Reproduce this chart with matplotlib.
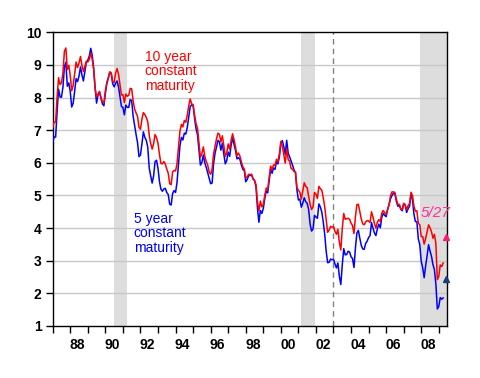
import matplotlib
matplotlib.use("Agg")
import matplotlib.pyplot as plt
import numpy as np

# monthly yields, Jan 1987 - Apr 2009 (percent)
ten_year = [
    7.08, 7.25, 7.25, 8.02, 8.61, 8.40, 8.45, 8.76, 9.42, 9.52, 8.86, 8.99,
    8.67, 8.21, 8.37, 8.72, 9.09, 8.92, 9.06, 9.26, 8.98, 8.80, 8.96, 9.11,
    9.09, 9.17, 9.36, 9.18, 8.86, 8.28, 8.02, 8.11, 8.19, 8.01, 7.87, 7.84,
    8.21, 8.47, 8.59, 8.79, 8.76, 8.48, 8.47, 8.75, 8.89, 8.72, 8.39, 8.08,
    8.09, 7.85, 8.11, 8.04, 8.07, 8.28, 8.27, 7.90, 7.65, 7.53, 7.42, 7.09,
    7.03, 7.34, 7.54, 7.48, 7.39, 7.26, 6.84, 6.59, 6.42, 6.59, 6.87, 6.77,
    6.60, 6.26, 5.98, 5.97, 6.04, 5.96, 5.81, 5.68, 5.36, 5.33, 5.72, 5.77,
    5.75, 5.97, 6.48, 6.97, 7.18, 7.10, 7.30, 7.24, 7.46, 7.74, 7.96, 7.81,
    7.78, 7.47, 7.20, 7.06, 6.63, 6.17, 6.28, 6.49, 6.20, 6.04, 5.93, 5.71,
    5.65, 5.81, 6.27, 6.51, 6.74, 6.91, 6.87, 6.64, 6.83, 6.53, 6.20, 6.30,
    6.58, 6.42, 6.69, 6.89, 6.71, 6.49, 6.22, 6.30, 6.21, 6.03, 5.88, 5.81,
    5.54, 5.57, 5.65, 5.64, 5.65, 5.50, 5.46, 5.34, 4.81, 4.53, 4.83, 4.65,
    4.72, 5.00, 5.23, 5.18, 5.54, 5.90, 5.79, 5.94, 5.92, 6.11, 6.03, 6.28,
    6.66, 6.52, 6.26, 5.99, 6.44, 6.10, 6.05, 5.83, 5.80, 5.74, 5.72, 5.24,
    5.16, 5.10, 4.89, 5.14, 5.39, 5.28, 5.24, 4.97, 4.73, 4.57, 4.65, 5.09,
    5.04, 4.91, 5.28, 5.21, 5.16, 4.93, 4.65, 4.26, 3.87, 3.94, 4.05, 4.03,
    4.05, 3.90, 3.81, 3.96, 3.57, 3.33, 3.98, 4.45, 4.27, 4.29, 4.30, 4.27,
    4.15, 4.08, 3.83, 4.35, 4.72, 4.73, 4.50, 4.28, 4.13, 4.10, 4.19, 4.23,
    4.22, 4.17, 4.50, 4.34, 4.14, 4.00, 4.18, 4.26, 4.20, 4.46, 4.54, 4.47,
    4.42, 4.57, 4.72, 4.99, 5.11, 5.11, 5.09, 4.88, 4.72, 4.73, 4.60, 4.56,
    4.76, 4.72, 4.56, 4.69, 4.75, 5.10, 5.00, 4.67, 4.52, 4.53, 4.15, 4.10,
    3.74, 3.74, 3.51, 3.68, 3.88, 4.10, 4.01, 3.89, 3.69, 3.81, 3.53, 2.42,
    2.52, 2.87, 2.82, 2.93,
]
five_year = [
    6.64, 6.79, 6.79, 7.57, 8.26, 8.02, 8.01, 8.32, 8.94, 9.08, 8.35, 8.45,
    8.18, 7.71, 7.83, 8.19, 8.58, 8.49, 8.66, 8.94, 8.69, 8.51, 8.79, 9.09,
    9.15, 9.27, 9.51, 9.30, 8.91, 8.29, 7.83, 8.09, 8.17, 7.97, 7.81, 7.75,
    8.12, 8.42, 8.60, 8.77, 8.74, 8.43, 8.33, 8.44, 8.51, 8.33, 8.02, 7.73,
    7.70, 7.47, 7.77, 7.70, 7.70, 7.94, 7.91, 7.43, 7.14, 6.87, 6.62, 6.19,
    6.24, 6.58, 6.95, 6.78, 6.69, 6.48, 5.84, 5.60, 5.38, 5.60, 6.04, 6.08,
    5.83, 5.43, 5.19, 5.13, 5.20, 5.22, 5.09, 5.03, 4.73, 4.71, 5.06, 5.15,
    5.09, 5.40, 5.94, 6.52, 6.78, 6.70, 6.91, 6.88, 7.08, 7.40, 7.72, 7.78,
    7.76, 7.37, 7.05, 6.86, 6.41, 5.93, 6.01, 6.24, 6.00, 5.86, 5.69, 5.51,
    5.36, 5.38, 5.97, 6.30, 6.48, 6.69, 6.64, 6.39, 6.60, 6.27, 5.97, 6.07,
    6.33, 6.20, 6.54, 6.76, 6.57, 6.38, 6.12, 6.16, 6.11, 5.93, 5.80, 5.77,
    5.42, 5.49, 5.61, 5.61, 5.63, 5.52, 5.46, 5.27, 4.62, 4.18, 4.54, 4.45,
    4.60, 4.91, 5.14, 5.08, 5.44, 5.81, 5.68, 5.84, 5.80, 6.03, 5.97, 6.19,
    6.58, 6.68, 6.50, 6.26, 6.69, 6.30, 6.18, 6.06, 5.93, 5.78, 5.70, 5.17,
    4.86, 4.89, 4.64, 4.76, 4.93, 4.81, 4.76, 4.57, 4.12, 3.91, 3.97, 4.39,
    4.34, 4.30, 4.74, 4.65, 4.49, 4.19, 3.81, 3.29, 2.94, 2.95, 3.05, 3.03,
    3.05, 2.90, 2.78, 2.93, 2.52, 2.27, 2.87, 3.37, 3.18, 3.19, 3.29, 3.27,
    3.12, 3.07, 2.79, 3.39, 3.85, 3.93, 3.69, 3.47, 3.36, 3.35, 3.53, 3.60,
    3.71, 3.77, 4.17, 4.00, 3.85, 3.77, 3.98, 4.12, 4.01, 4.33, 4.45, 4.39,
    4.35, 4.57, 4.72, 4.90, 5.00, 5.07, 5.04, 4.82, 4.67, 4.69, 4.58, 4.53,
    4.75, 4.71, 4.48, 4.59, 4.67, 5.03, 4.88, 4.43, 4.20, 4.20, 3.67, 3.49,
    2.98, 2.78, 2.48, 2.84, 3.15, 3.49, 3.30, 3.14, 2.88, 2.73, 2.29, 1.52,
    1.60, 1.87, 1.82, 1.86,
]
start_year = 1987

# daily readings on 5/27/2009
may27_ten = 3.72
may27_five = 2.43
may27_date = 2009.40

recessions = [(1990.5, 1991.25), (2001.17, 2001.92), (2007.92, 2009.5)]
marker_line = 2003.0
tick_years = list(range(1987, 2010))
label_years = list(range(1988, 2010, 2))

months = start_year + np.arange(len(ten_year)) / 12.0

fig = plt.figure(figsize=(4.8, 3.78), dpi=100)
ax = fig.add_axes([0.1098, 0.1376, 0.8208, 0.7769])

for a, b in recessions:
    ax.axvspan(a, b, color="#dddddd", lw=0, zorder=0)

for y in range(2, 10):
    ax.axhline(y, color="#c8c8c8", lw=1.0, zorder=1)

ax.axvline(marker_line, color="#808080", lw=1.0, ls=(0, (4, 3)), zorder=2)

ax.plot(months, five_year, color="#0000ff", lw=1.1, zorder=3)
ax.plot(months, ten_year, color="#ff0000", lw=1.1, zorder=4)

ax.plot([may27_date], [may27_ten], marker="^", color="#ff1a75", ms=5,
        clip_on=False, zorder=5)
ax.plot([may27_date], [may27_five], marker="^", color="#1a3d7a", ms=5,
        clip_on=False, zorder=5)

txt = dict(family="Liberation Sans", fontsize=10, linespacing=1.05, va="top")
ax.text(1992.25, 9.47, "10 year\nconstant\nmaturity", color="#ff0000", **txt)
ax.text(1991.62, 4.5, "5 year\nconstant\nmaturity", color="#0000ff", **txt)
ax.text(2007.95, 4.47, "5/27", color="#ff3399", family="Liberation Sans",
        fontsize=11, style="italic", va="center")

ax.set_xlim(1987.0, 2009.45)
ax.set_ylim(1, 10)

ax.set_xticks(tick_years)
ax.set_xticklabels([])
ax.set_xticks([y + 0.4 for y in label_years], minor=True)
ax.set_xticklabels([f"{y % 100:02d}" for y in label_years], minor=True)
ax.tick_params(axis="x", which="major", direction="out", length=5, width=1)
ax.tick_params(axis="x", which="minor", length=0, pad=9)

ax.set_yticks(range(1, 11))
ax.tick_params(axis="y", direction="out", length=5, width=1, pad=3)

for lab in ax.get_xticklabels(minor=True) + ax.get_yticklabels():
    lab.set_family("Liberation Sans")
    lab.set_fontweight("bold")
    lab.set_fontsize(10)

for s in ax.spines.values():
    s.set_linewidth(1.0)

fig.savefig("out.png", dpi=100)
